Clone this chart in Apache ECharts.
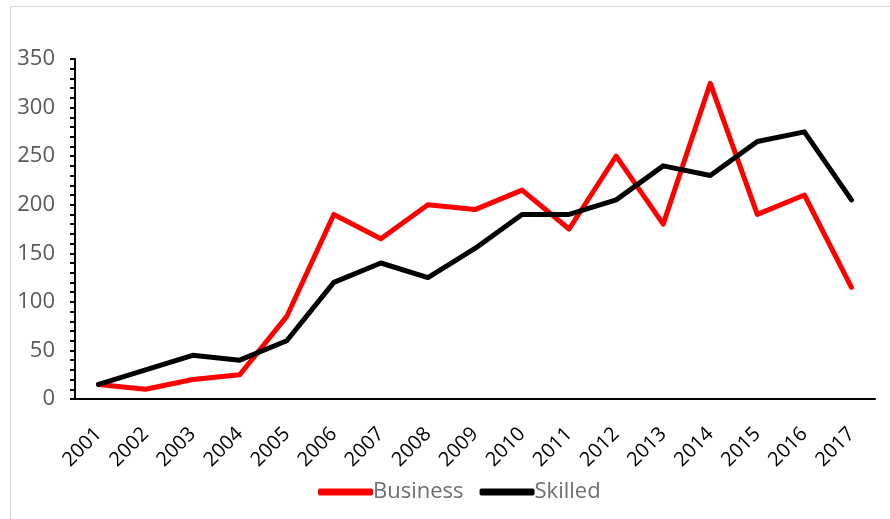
<!DOCTYPE html>
<html>
<head>
<meta charset="utf-8">
<script src="https://cdn.jsdelivr.net/npm/echarts@6/dist/echarts.min.js"></script>
<style>
  html, body { margin: 0; padding: 0; background: #fff; }
  #frame { position: absolute; left: 10px; top: 6px; width: 900px; height: 540px; border: 1px solid #d9d9d9; box-sizing: border-box; }
  #chart { position: absolute; left: 0; top: 0; width: 890px; height: 519px; }
</style>
</head>
<body>
<div id="frame"></div>
<div id="chart"></div>
<script>
// Visa grants per year
const years = ['2001','2002','2003','2004','2005','2006','2007','2008','2009','2010','2011','2012','2013','2014','2015','2016','2017'];
const business = [15, 10, 20, 25, 85, 190, 165, 200, 195, 215, 175, 250, 180, 325, 190, 210, 115];
const skilled  = [15, 30, 45, 40, 60, 120, 140, 125, 155, 190, 190, 205, 240, 230, 265, 275, 205];
const yTicks = [0, 50, 100, 150, 200, 250, 300, 350];

const font = '"Open Sans", sans-serif';
const chart = echarts.init(document.getElementById('chart'), null, { renderer: 'canvas' });
chart.setOption({
  animation: false,
  grid: { left: 75, right: 15, top: 59, bottom: 120 },
  legend: {
    top: 476,
    left: 313,
    itemWidth: 55,
    itemHeight: 7,
    itemGap: 16,
    icon: 'roundRect',
    textStyle: { color: '#6e6e6e', fontSize: 22, fontFamily: font, padding: [0, 0, 0, -5] },
    data: ['Business', 'Skilled']
  },
  xAxis: {
    type: 'category',
    data: years,
    boundaryGap: true,
    axisLine: { lineStyle: { color: '#000', width: 2 } },
    axisTick: { alignWithLabel: true, length: 6, lineStyle: { color: '#000', width: 2 } },
    axisLabel: { rotate: 45, color: '#000', fontSize: 20, fontFamily: font, margin: 32, interval: 0 }
  },
  yAxis: {
    type: 'value',
    min: yTicks[0],
    max: yTicks[yTicks.length - 1],
    interval: 50,
    splitLine: { show: false },
    axisLine: { show: true, lineStyle: { color: '#000', width: 2 } },
    axisTick: { show: true, length: 5, lineStyle: { color: '#000', width: 2 } },
    minorTick: { show: true, splitNumber: 5, length: 5, lineStyle: { color: '#000', width: 2 } },
    axisLabel: { color: '#595959', fontSize: 22, fontFamily: font, margin: 20 }
  },
  series: [
    {
      name: 'Business', type: 'line', data: business,
      symbol: 'none', color: '#ff0000',
      lineStyle: { width: 5, color: '#ff0000', cap: 'round', join: 'round' }
    },
    {
      name: 'Skilled', type: 'line', data: skilled,
      symbol: 'none', color: '#000000',
      lineStyle: { width: 5, color: '#000000', cap: 'round', join: 'round' }
    }
  ]
});
</script>
</body>
</html>
